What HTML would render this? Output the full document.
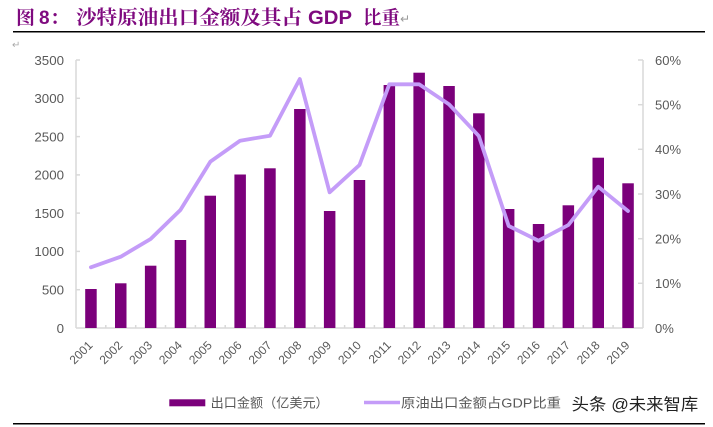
<!DOCTYPE html>
<html><head><meta charset="utf-8">
<style>
html,body{margin:0;padding:0;background:#fff;}
svg{display:block;}
</style></head>
<body>
<svg width="713" height="427" viewBox="0 0 713 427" xmlns="http://www.w3.org/2000/svg">
<rect width="713" height="427" fill="#fff"/>
<!-- Title -->
<g fill="#7f0a7f" font-weight="bold">
<text x="16" y="24" font-family="'Noto Serif CJK SC','Noto Sans CJK SC',serif" font-size="19">图</text>
<text x="39" y="24" font-family="'Liberation Sans',sans-serif" font-size="19">8</text>
<text x="50" y="24" font-family="'Noto Serif CJK SC','Noto Sans CJK SC',serif" font-size="19">：</text>
<text x="76" y="24" font-family="'Noto Serif CJK SC','Noto Sans CJK SC',serif" font-size="19.5" textLength="226" lengthAdjust="spacingAndGlyphs">沙特原油出口金额及其占</text>
<text x="308" y="24" font-family="'Liberation Sans',sans-serif" font-size="19.5" textLength="44" lengthAdjust="spacingAndGlyphs">GDP</text>
<text x="363" y="24" font-family="'Noto Serif CJK SC','Noto Sans CJK SC',serif" font-size="19" textLength="37" lengthAdjust="spacingAndGlyphs">比重</text>
</g>
<text x="400" y="23" fill="#999" font-family="'DejaVu Sans',sans-serif" font-size="12">↵</text>
<line x1="13" y1="31.7" x2="705" y2="31.7" stroke="#000" stroke-width="1.5"/>
<text x="12" y="48" fill="#aaa" font-family="'DejaVu Sans',sans-serif" font-size="10">↵</text>

<!-- Axes -->
<g stroke="#d9d9d9" stroke-width="1.5" fill="none">
<line x1="76" y1="60" x2="76" y2="328"/>
<line x1="643" y1="60" x2="643" y2="328"/>
<line x1="76" y1="328" x2="643" y2="328"/>
<!-- left ticks -->
<line x1="76" y1="60" x2="80" y2="60"/>
<line x1="76" y1="98.3" x2="80" y2="98.3"/>
<line x1="76" y1="136.6" x2="80" y2="136.6"/>
<line x1="76" y1="174.9" x2="80" y2="174.9"/>
<line x1="76" y1="213.1" x2="80" y2="213.1"/>
<line x1="76" y1="251.4" x2="80" y2="251.4"/>
<line x1="76" y1="289.7" x2="80" y2="289.7"/>
<!-- right ticks -->
<line x1="638" y1="60" x2="643" y2="60"/>
<line x1="638" y1="104.7" x2="643" y2="104.7"/>
<line x1="638" y1="149.3" x2="643" y2="149.3"/>
<line x1="638" y1="194" x2="643" y2="194"/>
<line x1="638" y1="238.7" x2="643" y2="238.7"/>
<line x1="638" y1="283.3" x2="643" y2="283.3"/>
<!-- x ticks -->
<line x1="105.8" y1="325" x2="105.8" y2="328"/>
<line x1="135.7" y1="325" x2="135.7" y2="328"/>
<line x1="165.5" y1="325" x2="165.5" y2="328"/>
<line x1="195.4" y1="325" x2="195.4" y2="328"/>
<line x1="225.2" y1="325" x2="225.2" y2="328"/>
<line x1="255" y1="325" x2="255" y2="328"/>
<line x1="284.9" y1="325" x2="284.9" y2="328"/>
<line x1="314.7" y1="325" x2="314.7" y2="328"/>
<line x1="344.6" y1="325" x2="344.6" y2="328"/>
<line x1="374.4" y1="325" x2="374.4" y2="328"/>
<line x1="404.2" y1="325" x2="404.2" y2="328"/>
<line x1="434.1" y1="325" x2="434.1" y2="328"/>
<line x1="463.9" y1="325" x2="463.9" y2="328"/>
<line x1="493.8" y1="325" x2="493.8" y2="328"/>
<line x1="523.6" y1="325" x2="523.6" y2="328"/>
<line x1="553.4" y1="325" x2="553.4" y2="328"/>
<line x1="583.3" y1="325" x2="583.3" y2="328"/>
<line x1="613.1" y1="325" x2="613.1" y2="328"/>
</g>

<!-- Left labels -->
<g fill="#595959" font-family="'Liberation Sans',sans-serif" font-size="13.3" text-anchor="end">
<text x="64" y="64.8">3500</text>
<text x="64" y="103.1">3000</text>
<text x="64" y="141.4">2500</text>
<text x="64" y="179.7">2000</text>
<text x="64" y="217.9">1500</text>
<text x="64" y="256.2">1000</text>
<text x="64" y="294.5">500</text>
<text x="64" y="332.8">0</text>
</g>
<!-- Right labels -->
<g fill="#595959" font-family="'Liberation Sans',sans-serif" font-size="13">
<text x="655" y="64.8">60%</text>
<text x="655" y="109.5">50%</text>
<text x="655" y="154.1">40%</text>
<text x="655" y="198.8">30%</text>
<text x="655" y="243.5">20%</text>
<text x="655" y="288.1">10%</text>
<text x="655" y="332.8">0%</text>
</g>

<!-- Bars -->
<g fill="#7b007b">
<rect x="85.2" y="289" width="11.5" height="39"/>
<rect x="115" y="283.3" width="11.5" height="44.7"/>
<rect x="144.9" y="265.7" width="11.5" height="62.3"/>
<rect x="174.7" y="240" width="11.5" height="88"/>
<rect x="204.5" y="195.7" width="11.5" height="132.3"/>
<rect x="234.4" y="174.5" width="11.5" height="153.5"/>
<rect x="264.2" y="168.3" width="11.5" height="159.7"/>
<rect x="294.1" y="109" width="11.5" height="219"/>
<rect x="323.9" y="211" width="11.5" height="117"/>
<rect x="353.7" y="180" width="11.5" height="148"/>
<rect x="383.6" y="85" width="11.5" height="243"/>
<rect x="413.4" y="72.7" width="11.5" height="255.3"/>
<rect x="443.3" y="86" width="11.5" height="242"/>
<rect x="473.1" y="113.3" width="11.5" height="214.7"/>
<rect x="502.9" y="209" width="11.5" height="119"/>
<rect x="532.8" y="224" width="11.5" height="104"/>
<rect x="562.6" y="205.3" width="11.5" height="122.7"/>
<rect x="592.5" y="157.7" width="11.5" height="170.3"/>
<rect x="622.3" y="183.3" width="11.5" height="144.7"/>
</g>

<!-- Line -->
<polyline fill="none" stroke="#c49cf8" stroke-width="3.8" stroke-linejoin="round" stroke-linecap="round"
points="90.9,267.3 120.8,256.7 150.6,239 180.4,210 210.3,161.7 240.1,140.7 270,135.7 299.8,79 329.6,192.3 359.5,165 389.3,84.3 419.2,84.3 449,104.3 478.8,136 508.7,226 538.5,240.7 568.4,225 598.2,186.7 628,211"/>

<!-- X labels -->
<g fill="#595959" font-family="'Liberation Sans',sans-serif" font-size="12" text-anchor="end">
<text transform="translate(93.3,346) rotate(-45)">2001</text>
<text transform="translate(123.2,346) rotate(-45)">2002</text>
<text transform="translate(153,346) rotate(-45)">2003</text>
<text transform="translate(182.8,346) rotate(-45)">2004</text>
<text transform="translate(212.7,346) rotate(-45)">2005</text>
<text transform="translate(242.5,346) rotate(-45)">2006</text>
<text transform="translate(272.4,346) rotate(-45)">2007</text>
<text transform="translate(302.2,346) rotate(-45)">2008</text>
<text transform="translate(332,346) rotate(-45)">2009</text>
<text transform="translate(361.9,346) rotate(-45)">2010</text>
<text transform="translate(391.7,346) rotate(-45)">2011</text>
<text transform="translate(421.6,346) rotate(-45)">2012</text>
<text transform="translate(451.4,346) rotate(-45)">2013</text>
<text transform="translate(481.2,346) rotate(-45)">2014</text>
<text transform="translate(511.1,346) rotate(-45)">2015</text>
<text transform="translate(540.9,346) rotate(-45)">2016</text>
<text transform="translate(570.8,346) rotate(-45)">2017</text>
<text transform="translate(600.6,346) rotate(-45)">2018</text>
<text transform="translate(630.4,346) rotate(-45)">2019</text>
</g>

<!-- Legend -->
<rect x="169.3" y="399.3" width="36" height="7" fill="#7b007b"/>
<text x="210.7" y="407.5" fill="#595959" font-family="'Liberation Sans','Noto Sans CJK SC',sans-serif" font-size="13" textLength="118" lengthAdjust="spacingAndGlyphs">出口金额（亿美元）</text>
<line x1="364" y1="402.5" x2="400" y2="402.5" stroke="#c49cf8" stroke-width="3.5"/>
<text x="401" y="407.5" fill="#595959" font-family="'Liberation Sans','Noto Sans CJK SC',sans-serif" font-size="13" textLength="160" lengthAdjust="spacingAndGlyphs">原油出口金额占GDP比重</text>
<text x="571.7" y="410" fill="#222" font-family="'Liberation Sans','Noto Sans CJK SC',sans-serif" font-size="16.5" textLength="126.5" lengthAdjust="spacingAndGlyphs">头条 @未来智库</text>

<line x1="13" y1="423.7" x2="705" y2="423.7" stroke="#000" stroke-width="1.5"/>
</svg>
</body></html>
